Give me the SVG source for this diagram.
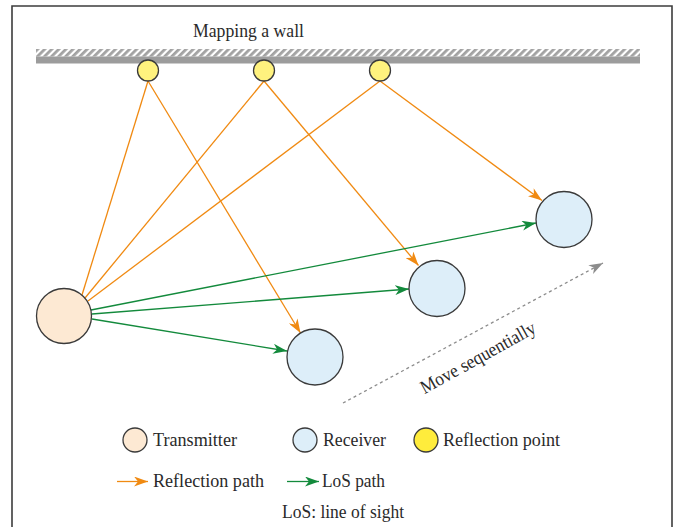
<svg xmlns="http://www.w3.org/2000/svg" width="679" height="527" viewBox="0 0 679 527">
  <style>
    text { font-family: "Liberation Serif", "Times New Roman", serif; font-size: 19px; fill: #2a2a2a; }
    .node { stroke: #3a3a3a; stroke-width: 1.3; }
    .tx { fill: #fde9d3; }
    .rx { fill: #ddeef9; }
    .rp { fill: #fff27e; }
    .rp-key { fill: #ffec3c; }
    .refl { stroke: #f08a12; stroke-width: 1.3; fill: none; }
    .los { stroke: #138a3c; stroke-width: 1.3; fill: none; }
    .move { stroke: #8c8c8c; stroke-width: 1.3; stroke-dasharray: 3 3; fill: none; }
  </style>
  <defs>
    <marker id="arrow-orange" viewBox="0 0 14 10" refX="14" refY="5" markerWidth="14" markerHeight="10" markerUnits="userSpaceOnUse" orient="auto">
      <path d="M0,0 L14,5 L0,10 L4,5 z" fill="#f08a12"/>
    </marker>
    <marker id="arrow-green" viewBox="0 0 14 10" refX="14" refY="5" markerWidth="14" markerHeight="10" markerUnits="userSpaceOnUse" orient="auto">
      <path d="M0,0 L14,5 L0,10 L4,5 z" fill="#138a3c"/>
    </marker>
    <marker id="arrow-gray" viewBox="0 0 14 10" refX="14" refY="5" markerWidth="14" markerHeight="10" markerUnits="userSpaceOnUse" orient="auto">
      <path d="M0,0 L14,5 L0,10 L4,5 z" fill="#8c8c8c"/>
    </marker>
    <pattern id="hatch" patternUnits="userSpaceOnUse" width="5" height="5" patternTransform="rotate(45)">
      <rect x="0" y="0" width="5" height="5" fill="#ffffff"/>
      <rect x="0" y="0" width="2.8" height="5" fill="#a2a2a2"/>
    </pattern>
  </defs>

  <rect x="0" y="0" width="679" height="527" fill="#ffffff"/>

  <!-- frame -->
  <path d="M12,527 V6 H672 V527" fill="none" stroke="#3c3c3c" stroke-width="1.6"/>

  <!-- wall -->
  <g id="wall">
    <rect x="36" y="49" width="604" height="7.5" fill="url(#hatch)"/>
    <rect x="36" y="56.5" width="604" height="7" fill="#9c9c9c"/>
    <text x="193" y="36.5" textLength="111" lengthAdjust="spacingAndGlyphs">Mapping a wall</text>
  </g>

  <!-- connectors -->
  <g id="connectors">
    <!-- reflection paths: transmitter to wall points -->
    <line class="refl" x1="148" y1="81" x2="82" y2="295"/>
    <line class="refl" x1="264" y1="81" x2="85" y2="298"/>
    <line class="refl" x1="380" y1="81" x2="88" y2="301"/>
    <!-- reflection paths: wall points to receivers -->
    <line class="refl" x1="148" y1="81" x2="300.5" y2="333" marker-end="url(#arrow-orange)"/>
    <line class="refl" x1="264" y1="81" x2="418.5" y2="265.5" marker-end="url(#arrow-orange)"/>
    <line class="refl" x1="380" y1="81" x2="542" y2="200.5" marker-end="url(#arrow-orange)"/>
    <!-- line-of-sight paths -->
    <line class="los" x1="91" y1="310" x2="536" y2="223" marker-end="url(#arrow-green)"/>
    <line class="los" x1="92" y1="314" x2="409" y2="289" marker-end="url(#arrow-green)"/>
    <line class="los" x1="92" y1="319" x2="287" y2="351" marker-end="url(#arrow-green)"/>
    <!-- receiver movement -->
    <line class="move" x1="343" y1="403" x2="603" y2="263" marker-end="url(#arrow-gray)"/>
  </g>

  <text transform="translate(481,363) rotate(-29)" text-anchor="middle" textLength="129" lengthAdjust="spacingAndGlyphs">Move sequentially</text>

  <!-- reflection points -->
  <g id="reflection-1"><circle class="node rp" cx="148" cy="70.5" r="10.5"/></g>
  <g id="reflection-2"><circle class="node rp" cx="264" cy="70.5" r="10.5"/></g>
  <g id="reflection-3"><circle class="node rp" cx="380" cy="70.5" r="10.5"/></g>

  <!-- transmitter and receivers -->
  <g id="transmitter"><circle class="node tx" cx="64" cy="316" r="27.5"/></g>
  <g id="receiver-1"><circle class="node rx" cx="315" cy="357" r="28"/></g>
  <g id="receiver-2"><circle class="node rx" cx="437" cy="288.5" r="28"/></g>
  <g id="receiver-3"><circle class="node rx" cx="564" cy="219.5" r="28"/></g>

  <!-- legend -->
  <g id="legend">
    <circle class="node tx" cx="135" cy="440" r="12"/>
    <text x="153" y="446" textLength="84" lengthAdjust="spacingAndGlyphs">Transmitter</text>
    <circle class="node rx" cx="305" cy="440" r="12"/>
    <text x="323" y="446" textLength="63" lengthAdjust="spacingAndGlyphs">Receiver</text>
    <circle class="node rp-key" cx="426" cy="440" r="12"/>
    <text x="443" y="446" textLength="117" lengthAdjust="spacingAndGlyphs">Reflection point</text>

    <line class="refl" x1="117" y1="481.5" x2="148" y2="481.5" marker-end="url(#arrow-orange)"/>
    <text x="153" y="487" textLength="111" lengthAdjust="spacingAndGlyphs">Reflection path</text>
    <line class="los" x1="287" y1="481.5" x2="319" y2="481.5" marker-end="url(#arrow-green)"/>
    <text x="322" y="487" textLength="63" lengthAdjust="spacingAndGlyphs">LoS path</text>

    <text x="282" y="518" textLength="122" lengthAdjust="spacingAndGlyphs">LoS: line of sight</text>
  </g>
</svg>
